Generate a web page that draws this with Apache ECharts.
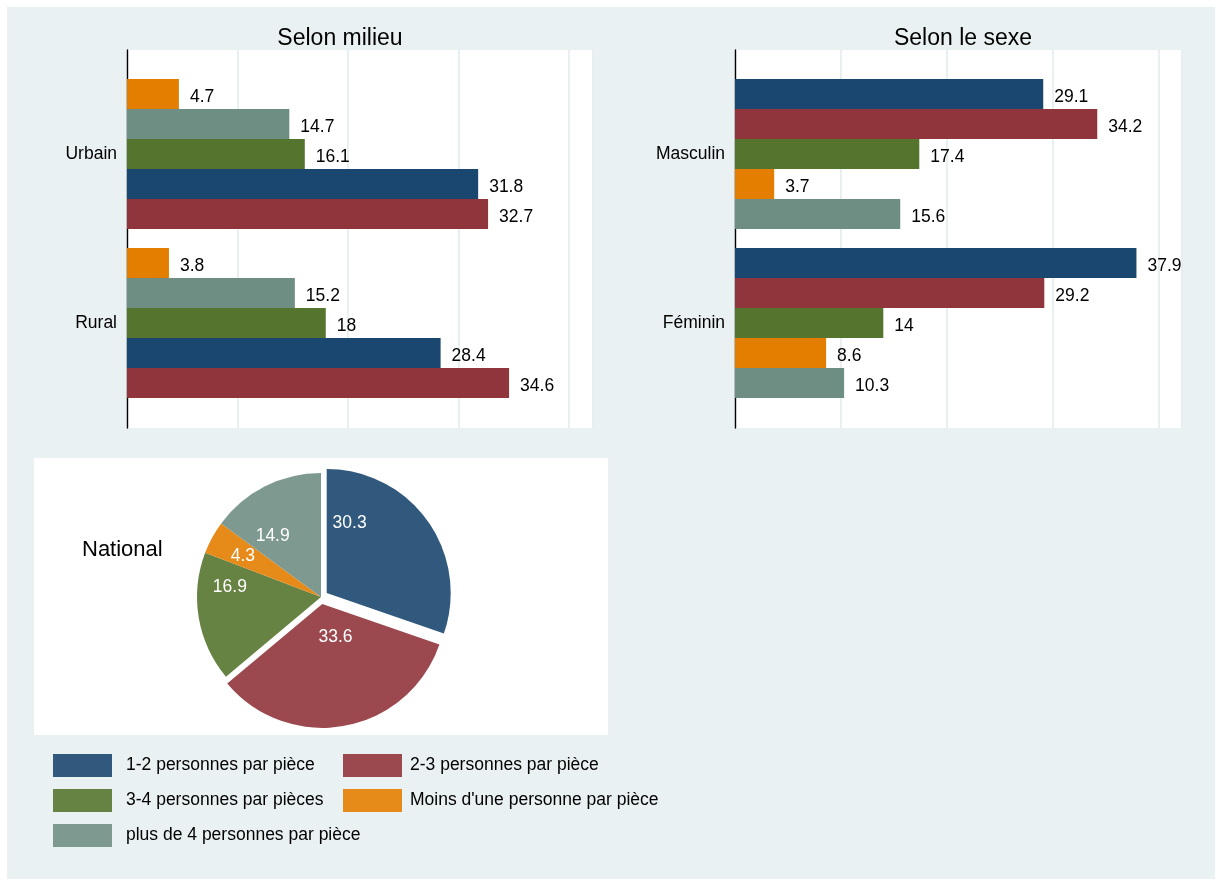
<!DOCTYPE html>
<html>
<head>
<meta charset="utf-8">
<title>Nombre de personnes par pièce</title>
<script src="https://cdn.jsdelivr.net/npm/echarts@6/dist/echarts.min.js"></script>
<style>
  html, body { margin: 0; padding: 0; background: #ffffff; }
  #chart { width: 1222px; height: 886px; }
</style>
</head>
<body>
<div id="chart"></div>
<script>
// Modalités (noms de la légende)
const categories = [
  '1-2 personnes par pièce',
  '2-3 personnes par pièce',
  '3-4 personnes par pièces',
  "Moins d'une personne par pièce",
  'plus de 4 personnes par pièce'
];

// Selon milieu
const milieuGroups = ['Urbain', 'Rural'];
const milieu_1_2 = [31.8, 28.4];
const milieu_2_3 = [32.7, 34.6];
const milieu_3_4 = [16.1, 18];
const milieu_moins1 = [4.7, 3.8];
const milieu_plus4 = [14.7, 15.2];

// Selon le sexe
const sexeGroups = ['Masculin', 'Féminin'];
const sexe_1_2 = [29.1, 37.9];
const sexe_2_3 = [34.2, 29.2];
const sexe_3_4 = [17.4, 14];
const sexe_moins1 = [3.7, 8.6];
const sexe_plus4 = [15.6, 10.3];

// National (camembert), dans l'ordre des modalités
const national = [30.3, 33.6, 16.9, 4.3, 14.9];

// ---- style ----
const FONT = '"Liberation Sans", Arial, Helvetica, sans-serif';
const barColors = ['#1a476f', '#90353b', '#55752f', '#e37e00', '#6e8e84'];
const pieColors = ['#31597d', '#9b494f', '#668344', '#e68b1a', '#7d9990'];
const pieLabelNudge = [[-30, -32], [1.5, -31], [-27, -21], [-21, -10], [-19, -3]];
const X_MAX = 42.2;

const chart = echarts.init(document.getElementById('chart'), null, { renderer: 'canvas' });

function bgGrid(left, width) {
  return { left: left, top: 50, width: width, height: 378, show: true, backgroundColor: '#ffffff', borderWidth: 0 };
}
function barGrid(left, width) {
  return { left: left, top: 69.5, width: width, height: 338, show: false };
}

function bgXAxis(gridIndex) {
  return {
    type: 'value', gridIndex: gridIndex, min: 0, max: X_MAX, interval: 10,
    axisLine: { show: false }, axisTick: { show: false }, axisLabel: { show: false },
    splitLine: { show: true, lineStyle: { color: '#e3ecee', width: 1.6 } }
  };
}
function bgYAxis(gridIndex) {
  return {
    type: 'value', gridIndex: gridIndex, min: 0, max: 1,
    axisLine: { show: true, lineStyle: { color: '#000000', width: 1.4 } },
    axisTick: { show: false }, axisLabel: { show: false }, splitLine: { show: false }
  };
}
function barXAxis(gridIndex) {
  return { type: 'value', gridIndex: gridIndex, min: 0, max: X_MAX, show: false };
}
function barYAxis(gridIndex, groups) {
  return {
    type: 'category', gridIndex: gridIndex, data: groups, inverse: true,
    axisLine: { show: false }, axisTick: { show: false }, splitLine: { show: false },
    axisLabel: { margin: 10, color: '#000000', fontSize: 17.5, fontFamily: FONT, padding: [4, 0, 0, 0] }
  };
}

function barSeries(catIndex, values, axisIndex) {
  return {
    type: 'bar',
    name: categories[catIndex],
    xAxisIndex: axisIndex,
    yAxisIndex: axisIndex,
    data: values,
    barWidth: 30,
    barGap: '0%',
    itemStyle: { color: barColors[catIndex] },
    label: {
      show: true, position: 'right', distance: 11, offset: [0, 3],
      color: '#000000', fontSize: 17.5, fontFamily: FONT,
      formatter: function (p) { return String(p.value); }
    },
    emphasis: { disabled: true },
    z: 3
  };
}

function legendAt(catIndex, left, top, textShift) {
  return {
    left: left, top: top, padding: 0, orient: 'horizontal',
    itemWidth: 59, itemHeight: 23, icon: 'rect', selectedMode: false,
    data: [{ name: categories[catIndex], itemStyle: { color: pieColors[catIndex], borderWidth: 0 } }],
    textStyle: { color: '#000000', fontSize: 17.5, fontFamily: FONT, padding: [0, 0, 0, textShift] }
  };
}

const option = {
  backgroundColor: '#ffffff',
  animation: false,
  graphic: [
    { type: 'rect', z: -20, silent: true, shape: { x: 7, y: 7, width: 1208, height: 872 }, style: { fill: '#eaf1f3' } },
    { type: 'rect', z: -19, silent: true, shape: { x: 34, y: 458, width: 574, height: 277 }, style: { fill: '#ffffff' } },
    { type: 'text', silent: true, style: { text: 'Selon milieu', x: 340, y: 38.5, align: 'center', verticalAlign: 'middle', font: '23px ' + FONT, fill: '#000000' } },
    { type: 'text', silent: true, style: { text: 'Selon le sexe', x: 963, y: 38.5, align: 'center', verticalAlign: 'middle', font: '23px ' + FONT, fill: '#000000' } },
    { type: 'text', silent: true, style: { text: 'National', x: 82, y: 550, align: 'left', verticalAlign: 'middle', font: '22px ' + FONT, fill: '#000000' } }
  ],
  grid: [
    bgGrid(127, 466),
    barGrid(127, 466),
    bgGrid(735, 447),
    barGrid(735, 447)
  ],
  xAxis: [bgXAxis(0), barXAxis(1), bgXAxis(2), barXAxis(3)],
  yAxis: [bgYAxis(0), barYAxis(1, milieuGroups), bgYAxis(2), barYAxis(3, sexeGroups)],
  legend: [
    legendAt(0, 53, 754, 9),
    legendAt(1, 343, 754, 3),
    legendAt(2, 53, 789, 9),
    legendAt(3, 343, 789, 3),
    legendAt(4, 53, 824, 9)
  ],
  series: [
    // Selon milieu : de haut en bas
    barSeries(3, milieu_moins1, 1),
    barSeries(4, milieu_plus4, 1),
    barSeries(2, milieu_3_4, 1),
    barSeries(0, milieu_1_2, 1),
    barSeries(1, milieu_2_3, 1),
    // Selon le sexe : de haut en bas
    barSeries(0, sexe_1_2, 3),
    barSeries(1, sexe_2_3, 3),
    barSeries(2, sexe_3_4, 3),
    barSeries(3, sexe_moins1, 3),
    barSeries(4, sexe_plus4, 3),
    // National
    {
      type: 'pie',
      name: 'National',
      center: [321, 597],
      radius: [0, 124],
      startAngle: 90,
      clockwise: true,
      selectedMode: 'multiple',
      selectedOffset: 7,
      avoidLabelOverlap: false,
      minShowLabelAngle: 0,
      emphasis: { disabled: true },
      label: {
        show: true, position: 'inside', color: '#ffffff',
        fontSize: 17.5, fontFamily: FONT, formatter: '{c}'
      },
      labelLine: { show: false },
      itemStyle: { borderWidth: 0 },
      data: categories.map(function (name, i) {
        return {
          name: name,
          value: national[i],
          selected: i < 2,
          itemStyle: { color: pieColors[i] },
          label: { offset: pieLabelNudge[i] },
          select: {
            itemStyle: { color: pieColors[i] },
            label: { offset: pieLabelNudge[i], color: '#ffffff' }
          }
        };
      })
    }
  ]
};

chart.setOption(option);
</script>
</body>
</html>
